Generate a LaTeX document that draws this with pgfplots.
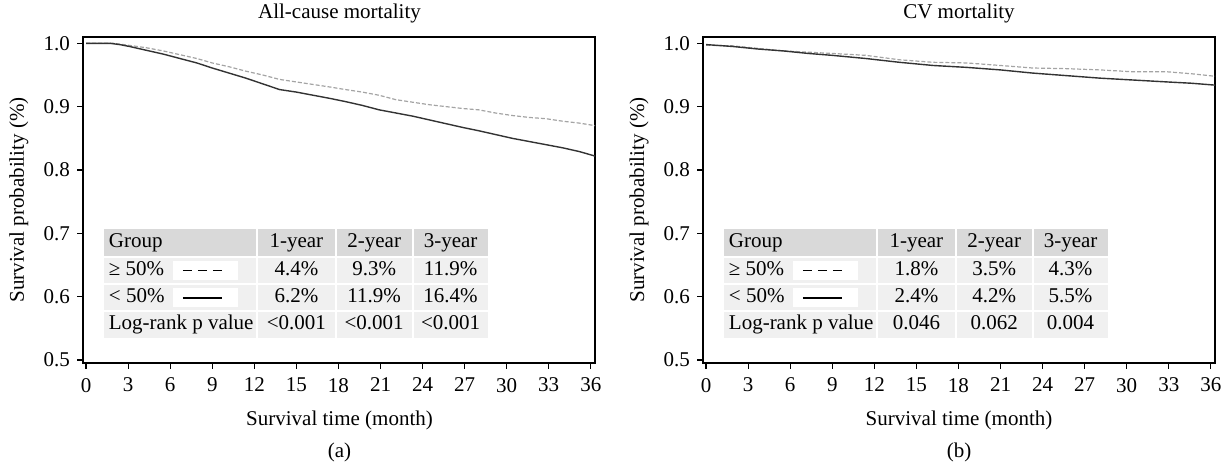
\documentclass[border=0pt]{standalone}
\usepackage{fontspec}
\setmainfont{Liberation Serif}
\usepackage{pgfplots}
\pgfplotsset{compat=1.18}
\definecolor{hdr}{HTML}{D9D9D9}
\definecolor{rowc}{HTML}{F0F0F0}
\definecolor{dashc}{HTML}{A4A4A4}
\definecolor{solc}{HTML}{333333}
\newcommand{\fs}{\fontsize{10.5}{12}\selectfont}

\pgfplotsset{kmaxis/.style={
  scale only axis, width=256pt, height=163pt,
  xmin=-0.22, xmax=36.3, ymin=0.4953, ymax=1.01,
  xtick={0,3,...,36}, ytick={0.5,0.6,0.7,0.8,0.9,1.0},
  yticklabel style={/pgf/number format/.cd, fixed, fixed zerofill, precision=1},
  /pgf/number format/assume math mode=true,
  tick align=outside, xtick pos=bottom, ytick pos=left,
  major tick length=3pt,
  tick style={black, line width=0.6pt},
  axis line style={line width=0.6pt},
  ticklabel style={font=\fs},
  xticklabel style={yshift=-1pt},
  anchor=south west,
}}

% table: 9 args: >=50 (1,2,3), <50 (1,2,3), p (1,2,3)
\newcommand{\kmtable}[9]{%
  \fill[hdr] (axis cs:1.3,0.707) rectangle (axis cs:28.7,0.663);
  \fill[rowc] (axis cs:1.3,0.663) rectangle (axis cs:28.7,0.534);
  \draw[white, line width=1pt] (axis cs:12.2,0.707) -- (axis cs:12.2,0.534);
  \draw[white, line width=1pt] (axis cs:17.8,0.707) -- (axis cs:17.8,0.534);
  \draw[white, line width=1pt] (axis cs:23.3,0.707) -- (axis cs:23.3,0.534);
  \draw[white, line width=1pt] (axis cs:1.3,0.663) -- (axis cs:28.7,0.663);
  \draw[white, line width=1pt] (axis cs:1.3,0.620) -- (axis cs:28.7,0.620);
  \draw[white, line width=1pt] (axis cs:1.3,0.577) -- (axis cs:28.7,0.577);
  \fill[white] (axis cs:6.2,0.656) rectangle (axis cs:10.8,0.627);
  \fill[white] (axis cs:6.2,0.613) rectangle (axis cs:10.8,0.584);
  \draw[black, line width=0.7pt, dash pattern=on 4.5pt off 3pt] (axis cs:6.9,0.6415) -- (axis cs:9.7,0.6415);
  \draw[black, line width=1pt] (axis cs:6.9,0.5985) -- (axis cs:9.7,0.5985);
  \node[font=\fs, anchor=base west, inner sep=0pt] at (axis cs:1.6,0.677) {Group};
  \node[font=\fs, anchor=base west, inner sep=0pt] at (axis cs:1.6,0.634) {≥ 50\%};
  \node[font=\fs, anchor=base west, inner sep=0pt] at (axis cs:1.6,0.591) {< 50\%};
  \node[font=\fs, anchor=base west, inner sep=0pt] at (axis cs:1.6,0.548) {Log-rank p value};
  \node[font=\fs, anchor=base, inner sep=0pt] at (axis cs:15.0,0.677) {1-year};
  \node[font=\fs, anchor=base, inner sep=0pt] at (axis cs:20.55,0.677) {2-year};
  \node[font=\fs, anchor=base, inner sep=0pt] at (axis cs:26.0,0.677) {3-year};
  \node[font=\fs, anchor=base, inner sep=0pt] at (axis cs:15.0,0.634) {#1};
  \node[font=\fs, anchor=base, inner sep=0pt] at (axis cs:20.55,0.634) {#2};
  \node[font=\fs, anchor=base, inner sep=0pt] at (axis cs:26.0,0.634) {#3};
  \node[font=\fs, anchor=base, inner sep=0pt] at (axis cs:15.0,0.591) {#4};
  \node[font=\fs, anchor=base, inner sep=0pt] at (axis cs:20.55,0.591) {#5};
  \node[font=\fs, anchor=base, inner sep=0pt] at (axis cs:26.0,0.591) {#6};
  \node[font=\fs, anchor=base, inner sep=0pt] at (axis cs:15.0,0.548) {#7};
  \node[font=\fs, anchor=base, inner sep=0pt] at (axis cs:20.55,0.548) {#8};
  \node[font=\fs, anchor=base, inner sep=0pt] at (axis cs:26.0,0.548) {#9};
}

\begin{document}
\begin{tikzpicture}
\useasboundingbox (0,0) rectangle (612.5pt,235pt);

% ---------------- (a) ----------------
\begin{axis}[kmaxis, at={(41.5pt,53.5pt)}]
\kmtable{4.4\%}{9.3\%}{11.9\%}{6.2\%}{11.9\%}{16.4\%}{<0.001}{<0.001}{<0.001}
\addplot[dashc, line width=0.6pt, dash pattern=on 2pt off 1pt] coordinates {
(0,1.0) (2.0,1.0) (3.0,0.997) (4.3,0.993) (5.5,0.988) (6.7,0.982) (7.9,0.976)
(9.0,0.969) (10.2,0.963) (11.4,0.956) (12.6,0.950) (13.8,0.943) (15.0,0.939)
(16.2,0.935) (17.4,0.931) (18.5,0.927) (19.7,0.923) (20.9,0.918) (22.1,0.911)
(23.3,0.907) (24.5,0.903) (25.7,0.900) (26.9,0.897) (28.0,0.895) (29.2,0.890)
(30.4,0.886) (31.6,0.883) (32.8,0.881) (34.0,0.877) (35.2,0.874) (36.3,0.870)
};
\addplot[solc, line width=0.7pt] coordinates {
(0,1.0) (1.7,1.0) (2.4,0.998) (3.1,0.995) (4.3,0.989) (5.5,0.983) (6.7,0.976)
(7.9,0.969) (9.0,0.961) (10.2,0.953) (11.4,0.945) (12.6,0.936) (13.8,0.927)
(15.0,0.923) (16.2,0.918) (17.4,0.913) (18.5,0.908) (19.7,0.902) (20.9,0.895)
(22.1,0.890) (23.3,0.885) (24.5,0.879) (25.7,0.873) (26.9,0.867) (28.0,0.862)
(29.2,0.856) (30.4,0.850) (31.6,0.845) (32.8,0.840) (34.0,0.835) (35.2,0.829)
(36.3,0.822)
};
\end{axis}

% ---------------- (b) ----------------
\begin{axis}[kmaxis, at={(351.5pt,53.5pt)}]
\kmtable{1.8\%}{3.5\%}{4.3\%}{2.4\%}{4.2\%}{5.5\%}{0.046}{0.062}{0.004}
\addplot[dashc, line width=0.6pt, dash pattern=on 2pt off 1pt] coordinates {
(0,0.997) (1.9,0.996) (3.7,0.992) (5.5,0.988) (7.3,0.986) (9.0,0.984)
(11.4,0.981) (13.8,0.974) (16.2,0.970) (18.6,0.969) (21.0,0.965) (23.3,0.961)
(25.7,0.960) (28.1,0.958) (30.5,0.955) (32.9,0.955) (34.6,0.952) (36.3,0.948)
};
\addplot[solc, line width=0.7pt] coordinates {
(0,0.998) (1.9,0.995) (3.7,0.991) (5.5,0.988) (7.3,0.984) (9.0,0.981)
(11.4,0.976) (13.8,0.970) (16.2,0.965) (18.6,0.962) (21.0,0.958) (23.3,0.953)
(25.7,0.949) (28.1,0.945) (30.5,0.942) (32.9,0.939) (34.6,0.937) (36.3,0.934)
};
\end{axis}

% titles and labels
\node[font=\fs, anchor=base] at (169.75pt,225.5pt) {All-cause mortality};
\node[font=\fs, anchor=base] at (479.5pt,225.5pt) {CV mortality};
\node[font=\fs, anchor=base] at (169.75pt,22pt) {Survival time (month)};
\node[font=\fs, anchor=base] at (479.5pt,22pt) {Survival time (month)};
\node[font=\fs, anchor=base] at (169.75pt,6pt) {(a)};
\node[font=\fs, anchor=base] at (479.5pt,6pt) {(b)};
\node[font=\fs, anchor=base, rotate=90] at (12pt,135pt) {Survival probability (\%)};
\node[font=\fs, anchor=base, rotate=90] at (322pt,135pt) {Survival probability (\%)};
\end{tikzpicture}
\end{document}
